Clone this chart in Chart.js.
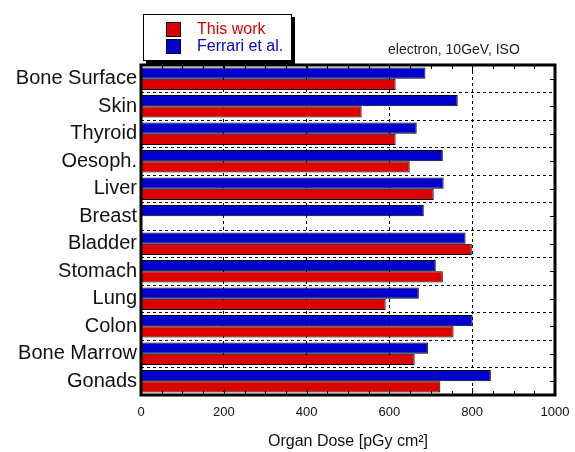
<!DOCTYPE html>
<html>
<head>
<meta charset="utf-8">
<script src="https://cdn.jsdelivr.net/npm/chart.js@4/dist/chart.umd.min.js"></script>
<style>
html,body{margin:0;padding:0;background:#fff;}
#wrap{width:575px;height:452px;position:relative;}
</style>
</head>
<body>
<div id="wrap"><canvas id="c" width="575" height="452"></canvas></div>
<script>
const organs = ["Bone Surface","Skin","Thyroid","Oesoph.","Liver","Breast","Bladder","Stomach","Lung","Colon","Bone Marrow","Gonads"];
const ferrari = [687,765,666,729,731,683,784,712,671,801,693,845];
const thisWork = [615,533,615,649,707,0,799,729,591,755,661,723];
const xTicks = [0,200,400,600,800,1000];
const subtitle = "electron, 10GeV, ISO";
const xTitle = "Organ Dose [pGy cm\u00B2]";

const RED = '#dd0000', BLUE = '#0000cc';
const FONT = '"Liberation Sans", Arial, Helvetica, sans-serif';

const framePlugin = {
  id: 'frame',
  afterDatasetsDraw(chart) {
    const ctx = chart.ctx, a = chart.chartArea;
    const xs = chart.scales.x, ys = chart.scales.y;
    ctx.save();
    ctx.strokeStyle = '#000';
    ctx.lineWidth = 1;
    for (let v = 0; v <= 1000; v += 50) {
      const px = Math.round(xs.getPixelForValue(v)) + 0.5;
      const len = (v % 200 === 0) ? 7 : 4;
      ctx.beginPath();
      ctx.moveTo(px, a.top); ctx.lineTo(px, a.top + len);
      ctx.moveTo(px, a.bottom); ctx.lineTo(px, a.bottom - len);
      ctx.stroke();
    }
    for (let i = 0; i < organs.length; i++) {
      const py = Math.round(ys.getPixelForValue(i)) + 0.5;
      ctx.beginPath();
      ctx.moveTo(a.right, py); ctx.lineTo(a.right - 5, py);
      ctx.stroke();
    }
    ctx.lineWidth = 3;
    ctx.strokeRect(a.left, a.top, a.right - a.left, a.bottom - a.top);
    ctx.restore();
  },
  afterDraw(chart) {
    const ctx = chart.ctx;
    ctx.save();
    ctx.fillStyle = '#000';
    ctx.fillRect(146, 17, 149, 47);
    ctx.fillStyle = '#fff';
    ctx.fillRect(143, 14, 149, 47);
    ctx.strokeStyle = '#000';
    ctx.lineWidth = 1;
    ctx.strokeRect(143.5, 14.5, 148, 46);
    const items = [chart.data.datasets[1], chart.data.datasets[0]];
    const ys = [30, 47];
    items.forEach((ds, i) => {
      ctx.fillStyle = ds.backgroundColor;
      ctx.fillRect(166, ys[i] - 8, 15, 15);
      ctx.strokeRect(166.5, ys[i] - 7.5, 14, 14);
      ctx.fillStyle = ds.backgroundColor;
      ctx.font = '16px ' + FONT;
      ctx.textBaseline = 'middle';
      ctx.textAlign = 'left';
      ctx.fillText(ds.label, 197, ys[i]);
    });
    ctx.fillStyle = '#222';
    ctx.font = '14px ' + FONT;
    ctx.textBaseline = 'middle';
    ctx.fillText(subtitle, 388, 50);
    ctx.restore();
  }
};

new Chart(document.getElementById('c'), {
  type: 'bar',
  data: {
    labels: organs,
    datasets: [
      { label: 'Ferrari et al.', data: ferrari, backgroundColor: BLUE, borderColor: '#000', borderWidth: 1, borderSkipped: 'start' },
      { label: 'This work', data: thisWork, backgroundColor: RED, borderColor: '#000', borderWidth: 1, borderSkipped: 'start' }
    ]
  },
  options: {
    indexAxis: 'y',
    responsive: false,
    animation: false,
    devicePixelRatio: 1,
    layout: { padding: { top: 65, right: 20, bottom: 0, left: 0 } },
    datasets: { bar: { categoryPercentage: 0.82, barPercentage: 1.0 } },
    plugins: { legend: { display: false }, tooltip: { enabled: false } },
    scales: {
      x: {
        min: 0, max: 1000,
        afterBuildTicks(s) { s.ticks = xTicks.map(v => ({ value: v })); },
        afterFit(s) { s.height = 57; s.paddingRight = 0; s.paddingLeft = 0; },
        ticks: { font: { size: 13, family: FONT }, color: '#111', padding: 10, maxRotation: 0, callback: v => String(v) },
        grid: { color: '#000', lineWidth: 1, drawTicks: false },
        border: { display: false, dash: [3, 3] },
        title: { display: true, text: xTitle, font: { size: 16, family: FONT }, color: '#111', padding: { top: 0, bottom: 1 } }
      },
      y: {
        afterFit(s) { s.width = 141; s.paddingTop = 0; s.paddingBottom = 0; },
        ticks: { font: { size: 20, family: FONT }, color: '#111', padding: 4 },
        grid: { color: '#000', lineWidth: 1, drawTicks: false, offset: true },
        border: { display: false, dash: [3, 3] }
      }
    }
  },
  plugins: [framePlugin]
});
</script>
</body>
</html>
